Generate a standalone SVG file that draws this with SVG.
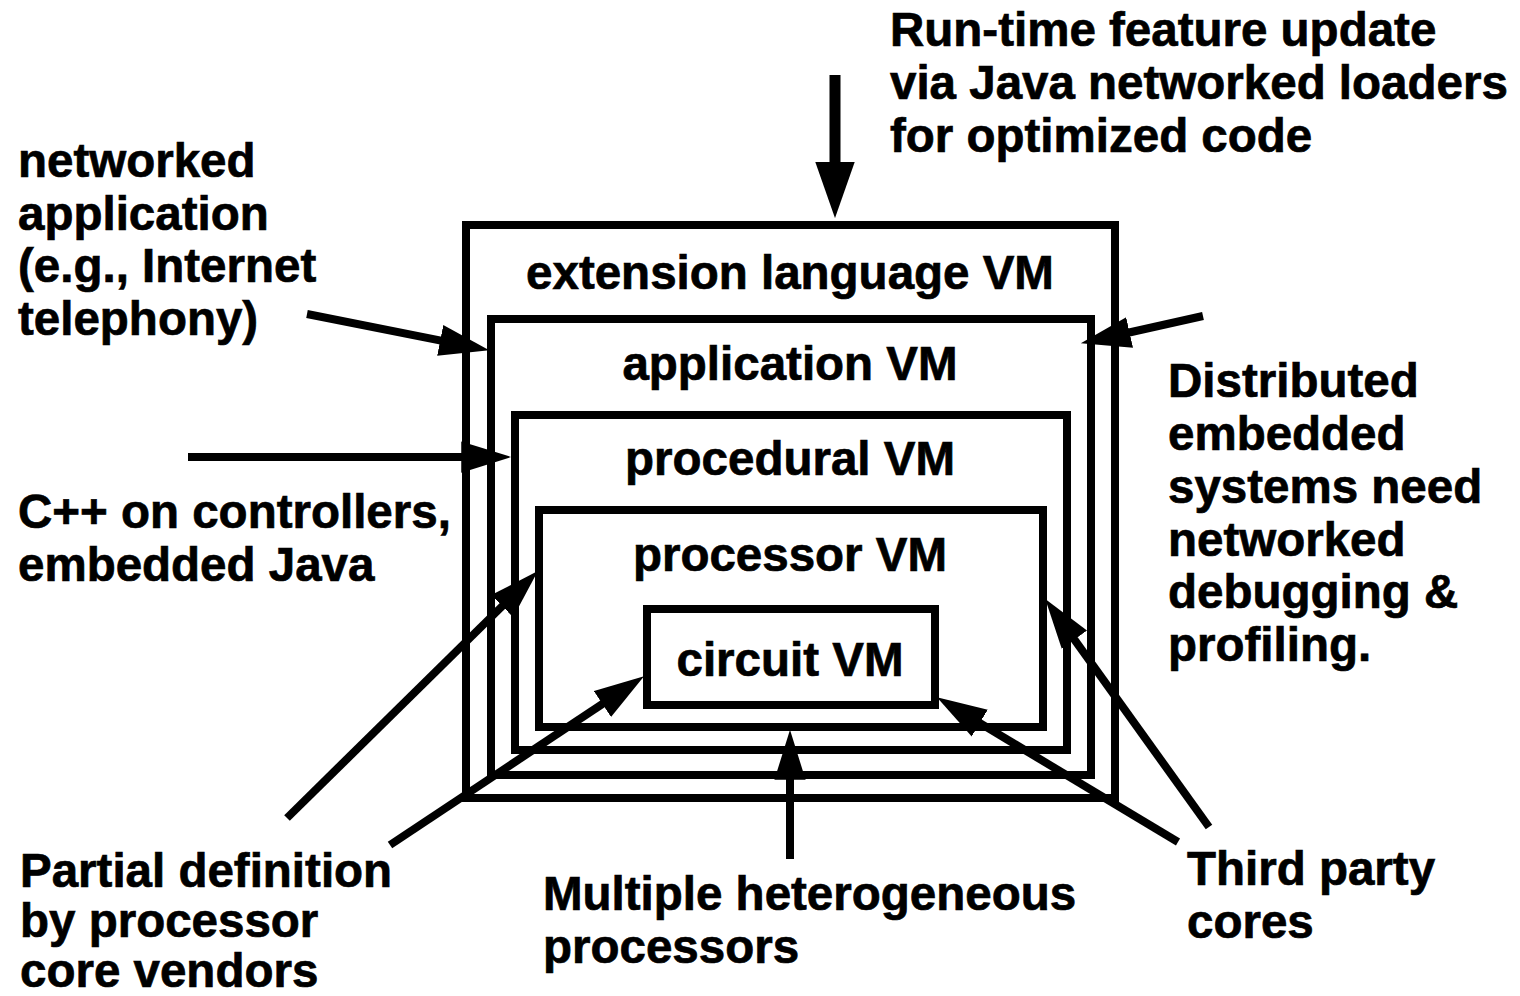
<svg xmlns="http://www.w3.org/2000/svg" width="1520" height="996" viewBox="0 0 1520 996">
  <style>
    .box { fill: none; stroke: #000; stroke-width: 8; stroke-linejoin: miter; }
    .lbl { font-family: "Liberation Sans", Arial, Helvetica, sans-serif; font-weight: bold; font-size: 47.5px; fill: #000; stroke: #000; stroke-width: 0.7px; }
    .mid { text-anchor: middle; }
    .wire { fill: none; stroke: #000; stroke-width: 8; marker-end: url(#head); }
    .wire-top { fill: none; stroke: #000; stroke-width: 11; marker-end: url(#headBig); }
  </style>
  <defs>
    <!-- filled arrowhead; the line stops 30px short of the tip -->
    <marker id="head" markerUnits="userSpaceOnUse" markerWidth="50" markerHeight="32" viewBox="0 0 48 30" refX="18" refY="15" orient="auto">
      <path d="M0,0 L48,15 L0,30 Z" fill="#000"/>
    </marker>
    <marker id="headBig" markerUnits="userSpaceOnUse" markerWidth="56" markerHeight="40" viewBox="0 0 54 38" refX="24" refY="19" orient="auto">
      <path d="M0,0 L54,19 L0,38 Z" fill="#000"/>
    </marker>
  </defs>

  <rect x="0" y="0" width="1520" height="996" fill="#fff"/>

  <!-- nested virtual machine layers -->
  <g id="extension-language-vm">
    <rect class="box" x="466" y="225" width="649" height="573"/>
    <text class="lbl mid" x="790" y="289">extension language VM</text>
  </g>
  <g id="application-vm">
    <rect class="box" x="491" y="319" width="600" height="456"/>
    <text class="lbl mid" x="790" y="380">application VM</text>
  </g>
  <g id="procedural-vm">
    <rect class="box" x="515" y="415" width="552" height="335"/>
    <text class="lbl mid" x="790" y="475">procedural VM</text>
  </g>
  <g id="processor-vm">
    <rect class="box" x="539" y="510" width="504" height="217"/>
    <text class="lbl mid" x="790" y="571">processor VM</text>
  </g>
  <g id="circuit-vm">
    <rect class="box" x="647" y="609" width="288" height="96"/>
    <text class="lbl mid" x="790" y="676">circuit VM</text>
  </g>

  <!-- annotations -->
  <g id="note-runtime-update">
    <text class="lbl">
      <tspan x="890" y="46">Run-time feature update</tspan>
      <tspan x="890" y="99">via Java networked loaders</tspan>
      <tspan x="890" y="152">for optimized code</tspan>
    </text>
  </g>
  <g id="note-networked-application">
    <text class="lbl">
      <tspan x="18" y="177">networked</tspan>
      <tspan x="18" y="229.5">application</tspan>
      <tspan x="18" y="282">(e.g., Internet</tspan>
      <tspan x="18" y="334.5">telephony)</tspan>
    </text>
  </g>
  <g id="note-cpp-controllers">
    <text class="lbl">
      <tspan x="18" y="528">C++ on controllers,</tspan>
      <tspan x="18" y="581">embedded Java</tspan>
    </text>
  </g>
  <g id="note-distributed">
    <text class="lbl">
      <tspan x="1168" y="397">Distributed</tspan>
      <tspan x="1168" y="449.5">embedded</tspan>
      <tspan x="1168" y="502.5">systems need</tspan>
      <tspan x="1168" y="555.5">networked</tspan>
      <tspan x="1168" y="608">debugging &amp;</tspan>
      <tspan x="1168" y="660.5">profiling.</tspan>
    </text>
  </g>
  <g id="note-partial-definition">
    <text class="lbl">
      <tspan x="20" y="887">Partial definition</tspan>
      <tspan x="20" y="937">by processor</tspan>
      <tspan x="20" y="987">core vendors</tspan>
    </text>
  </g>
  <g id="note-heterogeneous">
    <text class="lbl">
      <tspan x="543" y="910">Multiple heterogeneous</tspan>
      <tspan x="543" y="963">processors</tspan>
    </text>
  </g>
  <g id="note-third-party">
    <text class="lbl">
      <tspan x="1187" y="885">Third party</tspan>
      <tspan x="1187" y="938">cores</tspan>
    </text>
  </g>

  <!-- connectors -->
  <g id="connectors">
    <line class="wire-top" x1="835" y1="75" x2="835" y2="187"/>
    <line class="wire" x1="307" y1="314" x2="458.6" y2="344.1"/>
    <line class="wire" x1="188" y1="457" x2="480" y2="457"/>
    <line class="wire" x1="1203" y1="316" x2="1111.3" y2="336.5"/>
    <line class="wire" x1="287" y1="818" x2="515.6" y2="593"/>
    <line class="wire" x1="390" y1="845" x2="618" y2="693.6"/>
    <line class="wire" x1="790" y1="859" x2="790" y2="761"/>
    <line class="wire" x1="1178" y1="842" x2="963.7" y2="713.4"/>
    <line class="wire" x1="1209" y1="827" x2="1063.5" y2="624.4"/>
  </g>
</svg>
